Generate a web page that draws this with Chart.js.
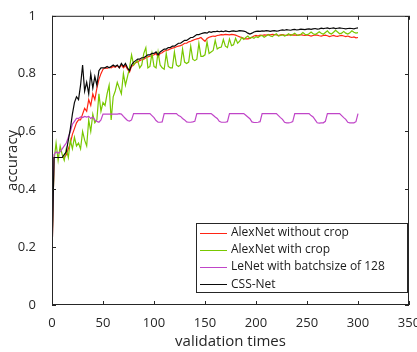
<!DOCTYPE html>
<html>
<head>
<meta charset="utf-8">
<script src="https://cdn.jsdelivr.net/npm/chart.js@4.4.0/dist/chart.umd.min.js"></script>
<style>
  html, body { margin: 0; padding: 0; background: #fff; }
</style>
</head>
<body>
<canvas id="chart" width="417" height="352"></canvas>
<script>
// validation times (x), every 2nd validation
const validationTimes = [
  0, 2, 4, 6, 8, 10, 12, 14, 16, 18,
  20, 22, 24, 26, 28, 30, 32, 34, 36, 38,
  40, 42, 44, 46, 48, 50, 52, 54, 56, 58,
  60, 62, 64, 66, 68, 70, 72, 74, 76, 78,
  80, 82, 84, 86, 88, 90, 92, 94, 96, 98,
  100, 102, 104, 106, 108, 110, 112, 114, 116, 118,
  120, 122, 124, 126, 128, 130, 132, 134, 136, 138,
  140, 142, 144, 146, 148, 150, 152, 154, 156, 158,
  160, 162, 164, 166, 168, 170, 172, 174, 176, 178,
  180, 182, 184, 186, 188, 190, 192, 194, 196, 198,
  200, 202, 204, 206, 208, 210, 212, 214, 216, 218,
  220, 222, 224, 226, 228, 230, 232, 234, 236, 238,
  240, 242, 244, 246, 248, 250, 252, 254, 256, 258,
  260, 262, 264, 266, 268, 270, 272, 274, 276, 278,
  280, 282, 284, 286, 288, 290, 292, 294, 296, 298,
  300
];

const alexNetNoCrop = [
  0.16, 0.51, 0.51, 0.51, 0.51, 0.51, 0.51, 0.52, 0.54, 0.56,
  0.59, 0.61, 0.63, 0.64, 0.64, 0.66, 0.68, 0.67, 0.71, 0.69,
  0.73, 0.71, 0.75, 0.78, 0.80, 0.815, 0.82, 0.818, 0.822, 0.82,
  0.825, 0.822, 0.828, 0.82, 0.83, 0.82, 0.828, 0.815, 0.805, 0.825,
  0.83, 0.838, 0.84, 0.845, 0.848, 0.85, 0.855, 0.858, 0.86, 0.862,
  0.865, 0.87, 0.858, 0.87, 0.872, 0.878, 0.88, 0.882, 0.885, 0.888,
  0.89, 0.893, 0.895, 0.897, 0.9, 0.905, 0.905, 0.91, 0.912, 0.915,
  0.918, 0.92, 0.922, 0.925, 0.918, 0.912, 0.922, 0.926, 0.928, 0.93,
  0.929, 0.932, 0.933, 0.935, 0.934, 0.936, 0.935, 0.934, 0.936, 0.935,
  0.933, 0.93, 0.927, 0.925, 0.922, 0.92, 0.92, 0.922, 0.926, 0.93,
  0.932, 0.93, 0.933, 0.932, 0.934, 0.933, 0.935, 0.934, 0.936, 0.935,
  0.934, 0.932, 0.934, 0.935, 0.933, 0.932, 0.934, 0.935, 0.933, 0.934,
  0.932, 0.934, 0.935, 0.933, 0.932, 0.934, 0.932, 0.93, 0.932, 0.934,
  0.933, 0.931, 0.93, 0.932, 0.933, 0.931, 0.928, 0.93, 0.932, 0.93,
  0.929, 0.931, 0.932, 0.93, 0.928, 0.93, 0.927, 0.925, 0.927, 0.924,
  0.925
];

const alexNetCrop = [
  0.2, 0.5, 0.56, 0.5, 0.55, 0.52, 0.5, 0.54, 0.51, 0.57,
  0.54, 0.58, 0.55, 0.56, 0.54, 0.6, 0.57, 0.55, 0.64, 0.6,
  0.66, 0.63, 0.64, 0.73, 0.67, 0.7, 0.69, 0.73, 0.76, 0.64,
  0.72, 0.74, 0.77, 0.75, 0.73, 0.8, 0.76, 0.79, 0.82, 0.865,
  0.83, 0.84, 0.845, 0.82, 0.83, 0.87, 0.89, 0.82, 0.825, 0.87,
  0.825, 0.82, 0.875, 0.83, 0.82, 0.815, 0.87, 0.825, 0.82, 0.82,
  0.875, 0.83, 0.825, 0.83, 0.885, 0.84, 0.835, 0.84, 0.895, 0.85,
  0.845, 0.85, 0.905, 0.86, 0.86, 0.865, 0.91, 0.87, 0.875, 0.88,
  0.915, 0.885, 0.89, 0.892, 0.918, 0.895, 0.89, 0.92, 0.897, 0.9,
  0.922, 0.905, 0.912, 0.925, 0.918, 0.925, 0.93, 0.922, 0.926, 0.922,
  0.928, 0.925, 0.93, 0.932, 0.926, 0.93, 0.935, 0.93, 0.928, 0.934,
  0.938, 0.93, 0.932, 0.935, 0.93, 0.933, 0.938, 0.932, 0.935, 0.94,
  0.934, 0.932, 0.936, 0.942, 0.936, 0.934, 0.938, 0.944, 0.938, 0.935,
  0.94, 0.945, 0.94, 0.936, 0.942, 0.948, 0.94, 0.937, 0.943, 0.95,
  0.944, 0.938, 0.94, 0.946, 0.94, 0.937, 0.941, 0.948, 0.943, 0.94,
  0.942
];

const leNet128 = [
  0.2, 0.52, 0.53, 0.525, 0.53, 0.54, 0.55, 0.56, 0.58, 0.6,
  0.625, 0.635, 0.645, 0.645, 0.65, 0.648, 0.652, 0.65, 0.652, 0.645,
  0.65, 0.64, 0.635, 0.632, 0.64, 0.66, 0.66, 0.66, 0.66, 0.66,
  0.66, 0.66, 0.66, 0.662, 0.66, 0.652, 0.645, 0.638, 0.636, 0.64,
  0.662, 0.662, 0.662, 0.662, 0.662, 0.662, 0.662, 0.662, 0.662, 0.655,
  0.648, 0.638, 0.632, 0.632, 0.633, 0.662, 0.662, 0.662, 0.662, 0.662,
  0.662, 0.662, 0.655, 0.652, 0.645, 0.64, 0.633, 0.632, 0.632, 0.633,
  0.635, 0.662, 0.662, 0.662, 0.662, 0.662, 0.662, 0.662, 0.662, 0.656,
  0.65, 0.645, 0.635, 0.632, 0.632, 0.632, 0.634, 0.662, 0.662, 0.662,
  0.662, 0.662, 0.662, 0.662, 0.662, 0.656, 0.65, 0.644, 0.633, 0.631,
  0.631, 0.632, 0.634, 0.662, 0.662, 0.662, 0.662, 0.662, 0.662, 0.662,
  0.662, 0.655, 0.648, 0.642, 0.632, 0.63, 0.63, 0.631, 0.634, 0.662,
  0.662, 0.662, 0.662, 0.662, 0.662, 0.662, 0.662, 0.655, 0.65, 0.64,
  0.63, 0.629, 0.63, 0.63, 0.635, 0.662, 0.662, 0.662, 0.662, 0.662,
  0.662, 0.662, 0.655, 0.648, 0.642, 0.632, 0.63, 0.63, 0.63, 0.634,
  0.662
];

const cssNet = [
  0.16, 0.51, 0.51, 0.51, 0.51, 0.51, 0.52, 0.53, 0.57, 0.61,
  0.66, 0.70, 0.72, 0.71, 0.76, 0.83, 0.74, 0.77, 0.73, 0.80,
  0.75, 0.79, 0.76, 0.81, 0.82, 0.82, 0.82, 0.825, 0.82, 0.825,
  0.83, 0.825, 0.83, 0.82, 0.835, 0.825, 0.835, 0.82, 0.81, 0.83,
  0.84, 0.845, 0.85, 0.85, 0.855, 0.855, 0.86, 0.865, 0.865, 0.87,
  0.87, 0.875, 0.865, 0.875, 0.88, 0.885, 0.885, 0.89, 0.89, 0.895,
  0.895, 0.9, 0.905, 0.905, 0.91, 0.915, 0.915, 0.92, 0.925, 0.925,
  0.93, 0.935, 0.935, 0.938, 0.94, 0.942, 0.94, 0.945, 0.943, 0.945,
  0.945, 0.947, 0.945, 0.947, 0.945, 0.948, 0.946, 0.945, 0.947, 0.948,
  0.946, 0.947, 0.949, 0.948, 0.947, 0.945, 0.94, 0.937, 0.94, 0.944,
  0.946, 0.947, 0.946, 0.948, 0.947, 0.949, 0.948, 0.946, 0.948, 0.949,
  0.947, 0.948, 0.95, 0.951, 0.95, 0.952, 0.951, 0.95, 0.952, 0.953,
  0.951, 0.952, 0.954, 0.953, 0.952, 0.954, 0.955, 0.953, 0.955, 0.956,
  0.954, 0.955, 0.957, 0.956, 0.957, 0.958, 0.956, 0.957, 0.958, 0.956,
  0.957, 0.958, 0.957, 0.956, 0.955, 0.956, 0.957, 0.956, 0.955, 0.957,
  0.958
];

const seriesNames = ["AlexNet without crop", "AlexNet with crop", "LeNet with batchsize of 128", "CSS-Net"];
const xTicks = [0, 50, 100, 150, 200, 250, 300, 350];
const yTicks = [0, 0.2, 0.4, 0.6, 0.8, 1];

const axisColor = "#262626";
const fontFamily = "'Open Sans', sans-serif";

function toPoints(values) {
  return values.map((v, i) => ({ x: validationTimes[i], y: v }));
}

// MATLAB-style box, inward ticks and the legend in the lower right
const boxPlugin = {
  id: "boxAndLegend",
  afterDraw(chart) {
    const { ctx, chartArea: a, scales } = chart;
    ctx.save();
    ctx.strokeStyle = axisColor;
    ctx.lineWidth = 1;
    ctx.strokeRect(a.left + 0.5, a.top + 0.5, a.right - a.left - 1, a.bottom - a.top - 1);
    ctx.beginPath();
    xTicks.forEach((v) => {
      const x = Math.round(scales.x.getPixelForValue(v)) + 0.5;
      ctx.moveTo(x, a.bottom);
      ctx.lineTo(x, a.bottom - 4);
      ctx.moveTo(x, a.top);
      ctx.lineTo(x, a.top + 4);
    });
    yTicks.forEach((v) => {
      const y = Math.round(scales.y.getPixelForValue(v)) + 0.5;
      ctx.moveTo(a.left, y);
      ctx.lineTo(a.left + 4, y);
      ctx.moveTo(a.right, y);
      ctx.lineTo(a.right - 4, y);
    });
    ctx.stroke();

    // legend
    const boxW = 211, rowH = 17.2;
    const boxH = 69;
    const bx = a.right - 2 - boxW, by = a.bottom - 13 - boxH;
    ctx.fillStyle = "#fff";
    ctx.fillRect(bx, by, boxW, boxH);
    ctx.strokeStyle = axisColor;
    ctx.strokeRect(Math.round(bx) + 0.5, Math.round(by) + 0.5, boxW, boxH);
    ctx.font = "12px " + fontFamily;
    ctx.textBaseline = "middle";
    ctx.textAlign = "left";
    chart.data.datasets.forEach((ds, i) => {
      const y = by + 9.5 + i * rowH;
      ctx.strokeStyle = ds.borderColor;
      ctx.beginPath();
      ctx.moveTo(bx + 4, Math.round(y) + 0.5);
      ctx.lineTo(bx + 31, Math.round(y) + 0.5);
      ctx.stroke();
      ctx.fillStyle = "#1a1a1a";
      ctx.fillText(ds.label, bx + 35, y);
    });
    ctx.restore();
  }
};

const ctx = document.getElementById("chart").getContext("2d");
new Chart(ctx, {
  type: "line",
  data: {
    datasets: [
      { label: seriesNames[0], data: toPoints(alexNetNoCrop), borderColor: "#ff2414", order: 4 },
      { label: seriesNames[1], data: toPoints(alexNetCrop), borderColor: "#78c800", order: 3 },
      { label: seriesNames[2], data: toPoints(leNet128), borderColor: "#c045c8", order: 2 },
      { label: seriesNames[3], data: toPoints(cssNet), borderColor: "#0a0a0a", order: 1 }
    ]
  },
  options: {
    responsive: false,
    animation: false,
    devicePixelRatio: 1,
    layout: { padding: { left: 0, top: 10, right: 8, bottom: 0 } },
    elements: {
      line: { borderWidth: 1.2, tension: 0, fill: false },
      point: { radius: 0 }
    },
    plugins: {
      legend: { display: false },
      tooltip: { enabled: false }
    },
    scales: {
      x: {
        type: "linear",
        min: 0,
        max: 350,
        grid: { display: false },
        border: { display: false },
        afterBuildTicks: (scale) => { scale.ticks = xTicks.map((v) => ({ value: v })); },
        afterFit: (scale) => { scale.height = 47; scale.paddingLeft = 0; scale.paddingRight = 0; },
        ticks: { color: axisColor, padding: 2, maxRotation: 0, font: { family: fontFamily, size: 13 }, callback: (v) => String(v) },
        title: { display: true, text: "validation times", color: axisColor, padding: { top: 0, bottom: 1 }, font: { family: fontFamily, size: 15 } }
      },
      y: {
        type: "linear",
        min: 0,
        max: 1,
        grid: { display: false },
        border: { display: false },
        afterBuildTicks: (scale) => { scale.ticks = yTicks.map((v) => ({ value: v })); },
        afterFit: (scale) => { scale.width = 52; },
        ticks: { color: axisColor, padding: 8, font: { family: fontFamily, size: 13 }, callback: (v) => String(v) },
        title: { display: true, text: "accuracy", color: axisColor, padding: { top: 4, bottom: 0 }, font: { family: fontFamily, size: 15 } }
      }
    }
  },
  plugins: [boxPlugin]
});
</script>
</body>
</html>
